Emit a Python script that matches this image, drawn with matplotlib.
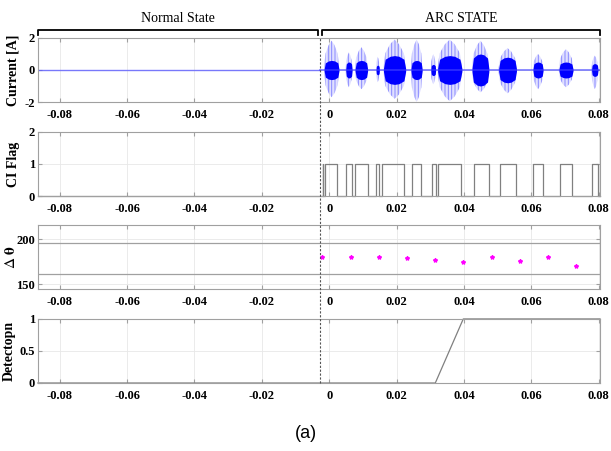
import numpy as np
import matplotlib
matplotlib.use('Agg')
import matplotlib.pyplot as plt
from matplotlib.lines import Line2D

plt.rcParams['font.family'] = 'Liberation Serif'
plt.rcParams['mathtext.fontset'] = 'stix'
plt.rcParams['hatch.linewidth'] = 0.7
plt.rcParams['axes.unicode_minus'] = False

# time window and arc onset
t_min, t_max = -0.0865, 0.0804
t_arc = -0.0028
ticks_t = [-0.08, -0.06, -0.04, -0.02, 0, 0.02, 0.04, 0.06, 0.08]

# arc current bursts (s, A)
burst_start = [-0.0015, 0.0049, 0.0077, 0.0139, 0.0161, 0.0243, 0.0302,
               0.0322, 0.0424, 0.0503, 0.0605, 0.0682, 0.0779]
burst_end = [0.0029, 0.0068, 0.0114, 0.0149, 0.0227, 0.0276, 0.0316,
             0.0394, 0.0474, 0.0556, 0.0635, 0.0724, 0.0798]
burst_hi = [1.83, 1.1, 1.42, 0.83, 1.9, 1.9, 1.0, 1.9, 1.83, 1.37, 1.0, 1.3, 0.9]
burst_lo = [-1.7, -1.08, -1.2, -0.77, -1.8, -2.0, -0.9, -1.95, -1.4, -1.46,
            -1.2, -1.08, -1.2]
burst_core = [0.6, 0.5, 0.6, 0.3, 0.9, 0.6, 0.35, 0.9, 1.0, 0.8, 0.5, 0.5, 0.4]

# CI flag high intervals
flag_on = [-0.0019, -0.0013, 0.0050, 0.0078, 0.0140, 0.0157, 0.0245, 0.0306,
           0.0322, 0.0430, 0.0508, 0.0606, 0.0686, 0.0780]
flag_off = [-0.0017, 0.0024, 0.0069, 0.0115, 0.0148, 0.0222, 0.0273, 0.0316,
            0.0392, 0.0474, 0.0556, 0.0635, 0.0722, 0.0797]

# phase difference per half cycle
theta_t = [-0.0021, 0.0065, 0.0149, 0.0232, 0.0315, 0.0398, 0.0482, 0.0566,
           0.0651, 0.0733]
theta_v = [180, 180, 180, 179, 177.5, 174.5, 180, 176.5, 180, 171]
theta_upper = 196
theta_lower = 162

# detection output
det_t = [t_min, 0.0315, 0.0398, t_max]
det_v = [0, 0, 1, 1]

fig = plt.figure(figsize=(6.11, 4.51), dpi=100)
left, width, height = 0.062, 0.92, 0.142
bottoms = [0.7738, 0.5654, 0.3592, 0.1508]
axs = [fig.add_axes([left, b, width, height]) for b in bottoms]

spine_c = '#a0a0a0'
for ax in axs:
    ax.set_xlim(t_min, t_max)
    ax.set_xticks(ticks_t)
    ax.set_xticklabels(['%g' % t for t in ticks_t])
    ax.grid(True, color='#e8e8e8', lw=0.6)
    ax.set_axisbelow(True)
    ax.tick_params(direction='in', top=True, right=True, length=3,
                   color=spine_c, labelsize=9)
    ax.tick_params(axis='x', pad=5)
    ax.tick_params(axis='y', pad=2)
    for sp in ax.spines.values():
        sp.set_color(spine_c)
        sp.set_linewidth(0.8)

# current
ax = axs[0]
ax.plot([t_min, t_arc], [0, 0], color='#5b5bff', lw=1.0, alpha=0.8)
ax.plot([t_arc, t_max], [0, 0], color='#4040ff', lw=1.2, alpha=0.7)
outer = np.array([0.1, 0.55, 0.85, 1.0, 0.85, 0.55, 0.1])
inner = np.array([0.1, 0.75, 0.95, 1.0, 0.95, 0.75, 0.1])
for s, e, hi, lo, c in zip(burst_start, burst_end, burst_hi, burst_lo, burst_core):
    w = e - s
    xs = [s, s + 0.08 * w, s + 0.3 * w, s + 0.5 * w, e - 0.3 * w,
          e - 0.08 * w, e]
    ax.fill_between(xs, outer * lo, outer * hi, facecolor=(0, 0, 1, 0.12),
                    edgecolor=(0.25, 0.25, 1, 0.55), hatch='|||||', lw=0)
    ax.fill_between(xs, -inner * c, inner * c, color='blue', lw=0)
ax.set_ylim(-2, 2)
ax.set_yticks([-2, 0, 2])
ax.set_ylabel('Current [A]', fontweight='bold', fontsize=10)

# CI flag
ax = axs[1]
fx, fy = [t_min], [0]
for a, b in zip(flag_on, flag_off):
    fx += [a, a, b, b]
    fy += [0, 1, 1, 0]
fx.append(t_max)
fy.append(0)
ax.plot(fx, fy, color='#808080', lw=0.9, clip_on=False)
ax.set_ylim(0, 2)
ax.set_yticks([0, 1, 2])
ax.set_ylabel('CI Flag', fontweight='bold', fontsize=10)

# phase difference
ax = axs[2]
ax.axhline(theta_upper, color='#a0a0a0', lw=0.9)
ax.axhline(theta_lower, color='#a0a0a0', lw=0.9)
ax.plot(theta_t, theta_v, ls='none', marker='*', ms=3, color='#ff00ff')
ax.set_ylim(145, 216)
ax.set_yticks([150, 200])
ax.set_ylabel(r'$\Delta\ \mathbf{\theta}$', fontsize=11)

# detection
ax = axs[3]
ax.plot(det_t, det_v, color='#808080', lw=0.9, clip_on=False)
ax.set_ylim(0, 1)
ax.set_yticks([0, 0.5, 1])
ax.set_yticklabels(['0', '0.5', '1'])
ax.set_ylabel('Detectopn', fontweight='bold', fontsize=10)

for ax in axs:
    for lab in ax.get_xticklabels() + ax.get_yticklabels():
        lab.set_fontweight('bold')
axs[0].yaxis.set_label_coords(-0.032, 0.5)
axs[1].yaxis.set_label_coords(-0.032, 0.5)
axs[2].yaxis.set_label_coords(-0.036, 0.5)
axs[3].yaxis.set_label_coords(-0.040, 0.5)

# arc onset marker across all panels
to_fig = fig.transFigure.inverted()
xf = to_fig.transform(axs[0].transData.transform((t_arc, 0)))[0]
fig.add_artist(Line2D([xf, xf], [bottoms[3], bottoms[0] + height],
                      transform=fig.transFigure, color='#555555', lw=0.8,
                      ls=(0, (2, 1.5))))

# state brackets
def bracket(x0, x1, label):
    f0 = to_fig.transform(axs[0].transData.transform((x0, 0)))[0]
    f1 = to_fig.transform(axs[0].transData.transform((x1, 0)))[0]
    yl, yt = 1 - 30 / 451, 1 - 34.5 / 451
    fig.add_artist(Line2D([f0, f0, f1, f1], [yt, yl, yl, yt],
                          transform=fig.transFigure, color='black', lw=1.3))
    fig.text((f0 + f1) / 2, 1 - 18 / 451, label, ha='center', va='center',
             fontsize=10)

bracket(t_min, -0.0033, 'Normal State')
bracket(-0.0022, t_max, 'ARC STATE')

fig.text(0.5, 1 - 433 / 451, '(a)', ha='center', va='center', fontsize=13,
         family='Liberation Sans')

fig.savefig('out.png', dpi=100)
